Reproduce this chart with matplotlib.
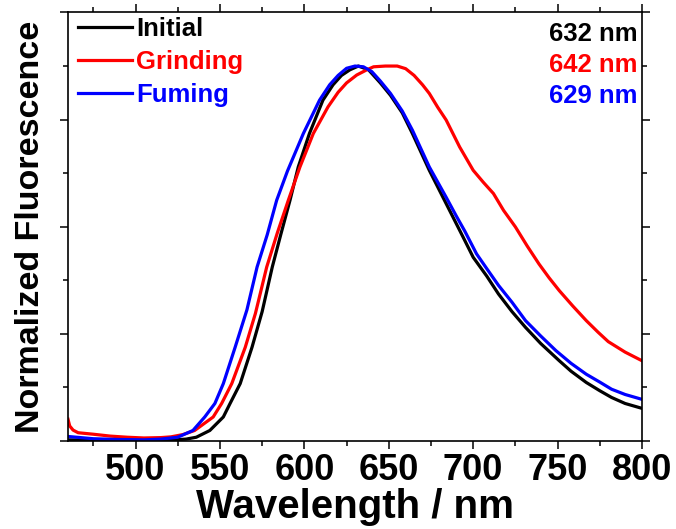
import matplotlib
matplotlib.use("Agg")
import matplotlib.pyplot as plt
from matplotlib.ticker import MultipleLocator

# (normalised emission, peak = 1)
initial_x = [460, 480, 500, 520, 530, 536, 544, 552, 556, 562, 569, 575, 581, 586, 591.5,
             596.4, 603, 611, 617, 622, 627, 632, 638, 645, 651, 658, 664, 674, 684, 694,
             700, 708, 715, 723, 731, 740, 751, 758, 767, 775, 782, 790, 800]
initial_y = [0.003, 0.002, 0.001, 0.002, 0.005, 0.010, 0.028, 0.064, 0.100, 0.153, 0.250,
             0.345, 0.464, 0.550, 0.642, 0.731, 0.820, 0.909, 0.950, 0.975, 0.990, 1.000,
             0.990, 0.955, 0.922, 0.875, 0.820, 0.722, 0.633, 0.544, 0.490, 0.440, 0.392,
             0.345, 0.303, 0.260, 0.214, 0.186, 0.156, 0.134, 0.116, 0.100, 0.087]

grinding_x = [460, 461, 463, 466, 475, 485, 495, 505, 515, 521, 528, 535, 546, 551, 557, 565,
              571, 577.7, 584, 590.5, 597.4, 605.3, 614, 620, 625, 631, 637, 641, 648, 655,
              660, 665, 670, 674, 679, 684, 692, 700, 706, 712, 718, 725, 732, 739, 745, 751,
              759, 767, 774, 780, 790, 800]
grinding_y = [0.058, 0.040, 0.029, 0.022, 0.018, 0.013, 0.010, 0.008, 0.009, 0.011, 0.017,
              0.028, 0.064, 0.100, 0.153, 0.250, 0.340, 0.464, 0.555, 0.642, 0.731, 0.820,
              0.891, 0.930, 0.955, 0.976, 0.990, 0.998, 1.000, 1.000, 0.993, 0.975, 0.950,
              0.927, 0.890, 0.856, 0.784, 0.722, 0.690, 0.660, 0.615, 0.571, 0.520, 0.472,
              0.435, 0.401, 0.360, 0.321, 0.290, 0.265, 0.237, 0.214]

fuming_x = [460, 465, 475, 490, 505, 515, 525, 534, 541, 547, 552, 559, 566, 572, 578, 583.6,
            590, 599.4, 609, 615, 620, 625, 630, 635, 640, 645, 651, 658, 664, 674, 684, 690,
            695, 702, 708, 715, 723, 731, 740, 749, 758, 767, 775, 782, 790, 800]
fuming_y = [0.012, 0.010, 0.006, 0.004, 0.003, 0.005, 0.010, 0.028, 0.064, 0.100, 0.153,
            0.250, 0.350, 0.464, 0.550, 0.642, 0.720, 0.820, 0.909, 0.950, 0.975, 0.994,
            1.000, 0.998, 0.985, 0.960, 0.927, 0.880, 0.829, 0.731, 0.650, 0.600, 0.560,
            0.499, 0.460, 0.415, 0.370, 0.321, 0.280, 0.241, 0.207, 0.178, 0.157, 0.138,
            0.124, 0.111]

labels = ["Initial", "Grinding", "Fuming"]
peaks = ["632 nm", "642 nm", "629 nm"]
colors = ["black", "#ff0000", "#0000ff"]

plt.rcParams['font.family'] = ['Liberation Sans', 'DejaVu Sans']
plt.rcParams['font.weight'] = 'bold'

fig = plt.figure(figsize=(6.76, 5.29), dpi=100)
ax = fig.add_axes([0.1006, 0.1664, 0.8491, 0.81])

series = [(initial_x, initial_y), (grinding_x, grinding_y), (fuming_x, fuming_y)]
for (xs, ys), lab, c in zip(series, labels, colors):
    ax.plot(xs, ys, color=c, lw=2.3, label=lab)

ax.set_xlim(460, 800)
ax.set_ylim(0, 8 / 7)
ax.xaxis.set_major_locator(MultipleLocator(50))
ax.xaxis.set_minor_locator(MultipleLocator(25))
ax.yaxis.set_major_locator(MultipleLocator(2 / 7))
ax.yaxis.set_minor_locator(MultipleLocator(1 / 7))
ax.tick_params(which='both', direction='out', top=True, right=True, width=1.1)
ax.tick_params(which='major', length=6)
ax.tick_params(which='minor', length=3.5)
ax.tick_params(axis='y', labelleft=False)
ax.tick_params(axis='x', labelsize=26, pad=3)
for sp in ax.spines.values():
    sp.set_linewidth(1.2)

ax.set_xlabel("Wavelength / nm", fontsize=29, fontweight='bold', labelpad=0)
ax.set_ylabel("Normalized Fluorescence", fontsize=24.5, fontweight='bold', labelpad=9)

leg = ax.legend(loc='upper left', frameon=False, fontsize=18.5, handlelength=2.1,
                handletextpad=0.15, labelspacing=0.35, borderaxespad=0.0,
                bbox_to_anchor=(0.0, 1.014), labelcolor='linecolor')

for i, (txt, c) in enumerate(zip(peaks, colors)):
    ax.text(0.992, 0.95 - i * 0.073, txt, transform=ax.transAxes, ha='right', va='center',
            color=c, fontsize=18.5, fontweight='bold')

fig.savefig("out.png", dpi=100)
